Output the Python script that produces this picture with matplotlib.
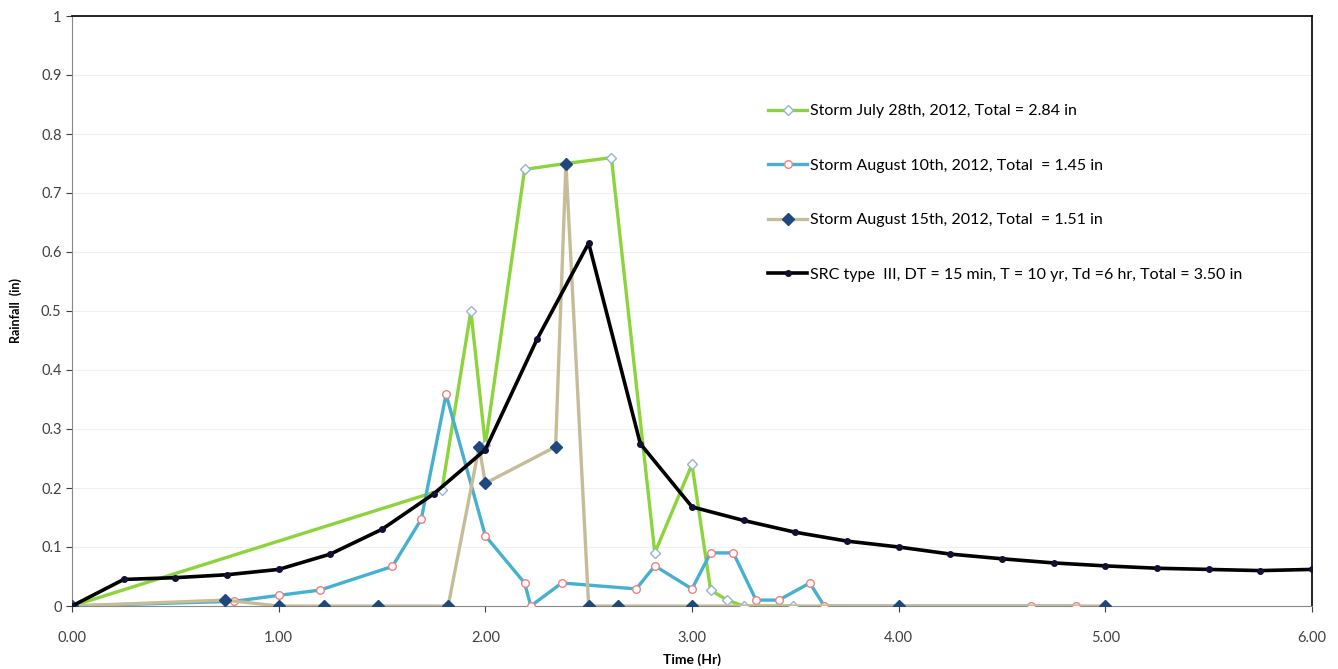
import matplotlib
matplotlib.use("Agg")
import matplotlib.pyplot as plt

plt.rcParams['font.family'] = ['Lato', 'DejaVu Sans']

# Storm July 28th, 2012
july_t = [0.0, 1.79, 1.93, 2.0, 2.19, 2.39, 2.61, 2.82, 3.0, 3.09, 3.17, 3.25, 3.49]
july_r = [0.0, 0.197, 0.50, 0.273, 0.74, 0.75, 0.76, 0.09, 0.24, 0.027, 0.01, 0.0, 0.0]

# Storm August 10th, 2012
aug10_t = [0.0, 0.785, 1.0, 1.2, 1.55, 1.69, 1.81, 2.0, 2.19, 2.22, 2.37, 2.73, 2.82,
           3.0, 3.09, 3.2, 3.31, 3.42, 3.57, 3.64, 4.64, 4.86]
aug10_r = [0.0, 0.008, 0.018, 0.027, 0.067, 0.147, 0.359, 0.119, 0.039, 0.0, 0.039,
           0.029, 0.068, 0.029, 0.09, 0.09, 0.01, 0.01, 0.039, 0.0, 0.0, 0.0]

# Storm August 15th, 2012
aug15_t = [0.0, 0.74, 1.0, 1.22, 1.48, 1.82, 1.97, 2.0, 2.34, 2.39, 2.5, 2.64, 3.0, 4.0, 5.0]
aug15_r = [0.0, 0.01, 0.0, 0.0, 0.0, 0.0, 0.27, 0.208, 0.27, 0.75, 0.0, 0.0, 0.0, 0.0, 0.0]

# SRC type III design storm, 15 min steps
src_t = [i * 0.25 for i in range(25)]
src_r = [0.0, 0.045, 0.048, 0.053, 0.062, 0.088, 0.13, 0.19, 0.265, 0.452, 0.615, 0.275,
         0.168, 0.145, 0.125, 0.11, 0.10, 0.088, 0.08, 0.073, 0.068, 0.064, 0.062, 0.060, 0.062]

labels = ['Storm July 28th, 2012, Total = 2.84 in',
          'Storm August 10th, 2012, Total  = 1.45 in',
          'Storm August 15th, 2012, Total  = 1.51 in',
          'SRC type  III, DT = 15 min, T = 10 yr, Td =6 hr, Total = 3.50 in']

x_ticks = [0, 1, 2, 3, 4, 5, 6]
y_ticks = [0, 0.1, 0.2, 0.3, 0.4, 0.5, 0.6, 0.7, 0.8, 0.9, 1.0]
y_ticklabels = ['0', '0.1', '0.2', '0.3', '0.4', '0.5', '0.6', '0.7', '0.8', '0.9', '1']

fig = plt.figure(figsize=(13.38, 6.69), dpi=100)
ax = fig.add_axes([72 / 1338, 1 - 606 / 669, (1312 - 72) / 1338, (606 - 16) / 669])

ax.plot(july_t, july_r, color='#8CD43C', lw=2.4, marker='D', ms=5.5,
        mfc='white', mec='#95B3D7', mew=1.0, label=labels[0], zorder=3)
ax.plot(aug10_t, aug10_r, color='#45B0CF', lw=2.4, marker='o', ms=5.5,
        mfc='white', mec='#F08080', mew=1.0, label=labels[1], zorder=4)
ax.plot(aug15_t, aug15_r, color='#C4BD97', lw=2.4, marker='D', ms=6,
        mfc='#1F497D', mec='#1F497D', label=labels[2], zorder=5)
ax.plot(src_t, src_r, color='black', lw=2.6, marker='o', ms=4,
        mfc='#111133', mec='#111133', label=labels[3], zorder=6)

ax.set_xlim(0, 6)
ax.set_ylim(0, 1)
ax.set_xticks(x_ticks)
ax.set_xticklabels(['%.2f' % t for t in x_ticks])
ax.set_yticks(y_ticks)
ax.set_yticklabels(y_ticklabels)
ax.tick_params(labelsize=10.5, colors='#404040', length=4, width=0.8)
ax.tick_params(axis='x', pad=14)
ax.grid(axis='y', color='#F0F0F0', lw=0.8)
ax.set_axisbelow(True)

ax.spines['left'].set_color('#888888')
ax.spines['bottom'].set_color('#888888')
ax.spines['top'].set_color('black')
ax.spines['right'].set_color('black')
ax.spines['top'].set_linewidth(1.2)
ax.spines['right'].set_linewidth(1.2)

ax.set_xlabel('Time (Hr)', fontsize=10, fontweight='bold', labelpad=6)
ax.set_ylabel('Rainfall  (in)', fontsize=9, fontweight='bold', labelpad=14)

ax.legend(loc='upper left', bbox_to_anchor=(0.55, 0.875), frameon=False,
          fontsize=11.5, labelspacing=2.52, handlelength=2.4, handletextpad=0.2)

fig.savefig('out.png', dpi=100)
